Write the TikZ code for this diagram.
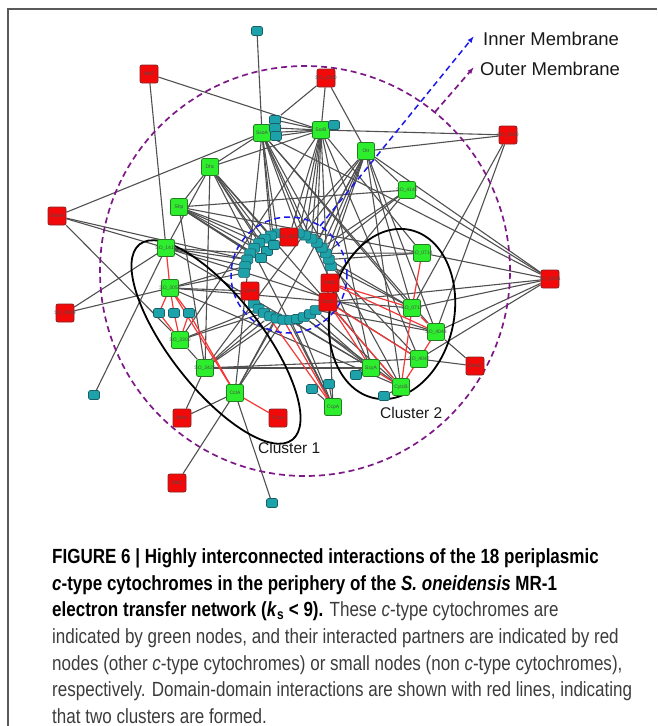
\documentclass[tikz,border=0pt]{standalone}
\usepackage{fontspec}
\setmainfont{Liberation Sans}
\newfontfamily\capfont[FakeStretch=0.83]{Liberation Sans}
\usetikzlibrary{arrows.meta}
\pgfdeclarelayer{bg}
\pgfsetlayers{bg,main}
\definecolor{cytgreen}{RGB}{45,238,45}
\definecolor{cytgreenb}{RGB}{35,125,35}
\definecolor{partred}{RGB}{242,10,10}
\definecolor{partredb}{RGB}{135,35,35}
\definecolor{smteal}{RGB}{30,162,170}
\definecolor{smtealb}{RGB}{25,95,105}
\definecolor{lnkgray}{RGB}{80,80,80}
\definecolor{ddred}{RGB}{245,55,55}
\definecolor{ommauve}{RGB}{125,25,135}
\definecolor{imblue}{RGB}{25,25,235}
\definecolor{captext}{RGB}{60,60,60}
\newcommand{\bk}[1]{\textcolor{black}{\bfseries #1}}

\begin{document}
\begin{tikzpicture}
[x=1pt, y=-1pt,
 cyt/.style={rectangle, rounded corners=2pt, fill=cytgreen, draw=cytgreenb, line width=0.8pt, inner sep=0pt, minimum size=17pt},
 part/.style={rectangle, rounded corners=2pt, fill=partred, draw=partredb, line width=0.8pt, inner sep=0pt, minimum size=18pt},
 smol/.style={rectangle, rounded corners=1.5pt, fill=smteal, draw=smtealb, line width=0.6pt, inner sep=0pt, minimum width=11pt, minimum height=9pt},
 every label/.style={font=\fontsize{5}{5}\selectfont, text=black!70, inner sep=0pt},
 lnk/.style={draw=lnkgray, line width=1.1pt},
 dd/.style={draw=ddred, line width=1.2pt},
 clus/.style={draw=black, line width=1.8pt},
 omb/.style={draw=ommauve, line width=1.7pt, dash pattern=on 6pt off 4pt},
 imb/.style={draw=imblue, line width=1.5pt, dash pattern=on 6pt off 4pt},
 capl/.style={anchor=base west, inner sep=0pt, text=captext, font=\capfont\fontsize{20.5}{24}\selectfont}]
\useasboundingbox (0,0) rectangle (657,726);
\draw[draw=black!65, line width=1.3pt] (8,726) -- (8,9) -- (657,9);

% green: periplasmic c-type cytochromes
\node[cyt, label=center:SsoA] (ssoa) at (262,133) {};
\node[cyt, label=center:SorB] (sorb) at (321,130) {};
\node[cyt, label=center:Otr] (otr) at (366,151) {};
\node[cyt, label=center:Dhc] (dhc) at (210,167) {};
\node[cyt, label=center:Shp] (shp) at (179,207) {};
\node[cyt, label=center:SO\_4142] (so4142) at (407,190) {};
\node[cyt, label=center:SO\_1413] (so1413) at (166,248) {};
\node[cyt, label=center:SO\_0714] (so0714) at (422,253) {};
\node[cyt, label=center:SO\_3056] (so3056) at (170,288) {};
\node[cyt, label=center:SO\_0717] (so0717) at (412,308) {};
\node[cyt, label=center:SO\_4048] (so4048) at (436,332) {};
\node[cyt, label=center:SO\_3300] (so3300) at (180,340) {};
\node[cyt, label=center:SO\_4047] (so4047) at (419,359) {};
\node[cyt, label=center:SO\_3420] (so3420) at (205,368) {};
\node[cyt, label=center:ScyA] (scya) at (371,368) {};
\node[cyt, label=center:CytcB] (cytcb) at (401,387) {};
\node[cyt, label=center:CctA] (ccta) at (235,393) {};
\node[cyt, label=center:CcpA] (ccpa) at (333,407) {};

% red: other c-type partners
\node[part, label=center:MtrF] (mtrf) at (149,74) {};
\node[part, label=center:SO\_4360] (so4360) at (326,78) {};
\node[part, label=center:SO\_2930] (so2930) at (508,135) {};
\node[part, label=center:DmsA] (dmsa) at (57,216) {};
\node[part, label=center:SO\_0939] (so0939) at (65,313) {};
\node[part, label=center:SO\_2931] (so2931) at (550,279) {};
\node[part, label=center:DmsE] (dmse) at (475,366) {};
\node[part, label=center:MtrA] (mtra) at (182,418) {};
\node[part, label=center:FccA] (fcca) at (278,418) {};
\node[part, label=center:MtrC] (mtrc) at (177,483) {};

% small: non c-type partners
\node[smol] (t1) at (257,31) {};
\node[smol] (t2) at (275,120) {};
\node[smol] (t3) at (275,128) {};
\node[smol] (t4) at (276,136) {};
\node[smol] (t5) at (334,125) {};
\node[smol] (t6) at (94,395) {};
\node[smol] (t7) at (272,503) {};
\node[smol] (k1) at (159,313) {};
\node[smol] (k2) at (174,313) {};
\node[smol] (k3) at (189,313) {};
\node[smol] (m1) at (312,389) {};
\node[smol] (m2) at (329,384) {};
\node[smol] (m3) at (356,375) {};
\node[smol] (m4) at (384,396) {};

% ring in the inner membrane
\foreach \a in {13,22,31,40,49,58,67,76,104,113,122,131,140,149,158,167,176,219,228,237,246,255,264,273,282,291,300,309}
  \node[smol] (c\a) at ({288+44*cos(\a)},{276-44*sin(\a)}) {};
\node[smol] (ci1) at (267,251) {};
\node[smol] (ci2) at (261,258) {};
\node[smol] (ci3) at (274,245) {};
\node[part, label=center:SO\_4572] (so4572) at (289,237) {};
\node[part, label=center:CymA] (cyma) at (250,291) {};
\node[part, label=center:PetC] (petc) at (330,283) {};
\node[part, label=center:CbcO] (cbco) at (328,302) {};

\coordinate (imtip) at (474,36);
\coordinate (imfoot) at (320,226);
\coordinate (omtip) at (474,67);
\coordinate (omfoot) at (435,112);
\node[anchor=base west, inner sep=0pt, font=\fontsize{18.5}{20}\selectfont, text=black!90] (imtxt) at (483,45) {Inner Membrane};
\node[anchor=base west, inner sep=0pt, font=\fontsize{18.5}{20}\selectfont, text=black!90] (omtxt) at (480,75) {Outer Membrane};
\node[anchor=base west, inner sep=0pt, font=\fontsize{15.5}{17}\selectfont, text=black!90] (cl1) at (258,453) {Cluster 1};
\node[anchor=base west, inner sep=0pt, font=\fontsize{15.5}{17}\selectfont, text=black!90] (cl2) at (380,418) {Cluster 2};

\begin{pgfonlayer}{bg}
\foreach \p/\q in {t1/ssoa, mtrf/sorb, mtrf/so1413, so4360/t2, so4360/sorb, so4360/otr,
  ssoa/sorb, t2/sorb, t3/sorb, t4/sorb, t5/sorb, ssoa/dhc, ssoa/dmsa, sorb/dhc, sorb/so2930,
  otr/so2930, dhc/shp, dhc/so1413, dmsa/so1413, dmsa/so3300, so0939/so1413, so0939/so3056,
  so1413/t6, shp/so3420, dhc/so3420, shp/so0714, shp/so4142, ssoa/so0717, ssoa/so4048,
  ssoa/cytcb, ssoa/ccta, ssoa/scya, sorb/so0714, sorb/scya, sorb/so4047, sorb/ccpa, sorb/so3300,
  otr/so4142, otr/so0717, otr/so4048, otr/cytcb, otr/so2931, otr/so3420, otr/ccta,
  dhc/ccpa, dhc/cytcb, so1413/so4048, so3056/so0717, so3300/so3420, so3420/mtra, so3420/scya,
  so3420/so4047, ccta/mtra, ccta/mtrc, ccta/t7, ccpa/m1, ccpa/m2, scya/m3, cytcb/m4,
  so0717/so2930, so0717/so2931, so4048/so2930, so4048/so2931, so4048/dmse, so4047/dmse,
  so4047/so2931, so0714/so2931, so4142/so2931, so2931/ssoa, sorb/so4572, otr/so4572,
  cyma/so3056, cbco/so2931, petc/so4142, shp/so4047, so1413/scya, so3056/cytcb}
  \draw[lnk] (\p) -- (\q);
% spokes into the ring
\foreach \p/\q in {ssoa/c104, ssoa/c113, ssoa/c76, ssoa/c67, ssoa/ci3, sorb/c58, sorb/c49, sorb/c76,
  sorb/c67, otr/c40, otr/c31, otr/c49, otr/c22, dhc/c122, dhc/c131, dhc/c113, dhc/ci1,
  shp/c140, shp/c149, shp/c131, shp/c122, shp/ci2, so1413/c158, so1413/c167, so1413/c149,
  so3056/c176, so3056/c167, so3300/c228, so3300/c237, so3420/c246, so3420/c237,
  ccta/c255, ccta/c264, ccpa/c282, ccpa/c273, scya/c300, scya/c291, cytcb/c309,
  so0717/c13, so0717/c22, so0714/c31, so0714/c22, so4142/c40, so4142/c31, dmsa/c158,
  so4047/c13, scya/c273, cytcb/c291, so3420/c255, so4048/c309}
  \draw[lnk] (\p) -- (\q);
% domain-domain interactions
\foreach \p/\q in {so1413/so3056, so3056/k1, so3056/k2, so3056/k3, k1/so3300, k2/so3300,
  k3/so3300, so3056/ccta, k3/ccta, ccta/fcca, cyma/ccpa, c264/ccpa, so0714/so0717,
  so0717/so4048, so4048/so4047, so4047/cytcb, so0717/cytcb, scya/cytcb, petc/so0717,
  petc/so4048, cbco/cytcb, cbco/scya, cbco/so4047}
  \draw[dd] (\p) -- (\q);
% membranes and clusters
\draw[omb] (305,271) circle [radius=205pt];
\draw[imb] (289,275) circle [radius=58pt];
\draw[imb, -{Latex[length=7pt, width=5pt]}] (imfoot) -- (imtip);
\draw[omb, -{Latex[length=7pt, width=5pt]}] (omfoot) -- (omtip);
\draw[clus, rotate around={-52:(216,342)}] (216,342) ellipse [x radius=124pt, y radius=46pt];
\draw[clus, rotate around={-12:(392,314)}] (392,314) ellipse [x radius=62pt, y radius=86pt];
\end{pgfonlayer}

% caption
\node[capl] (ln1) at (52,563) {\bk{FIGURE 6 | Highly interconnected interactions of the 18 periplasmic}};
\node[capl] (ln2) at (52,590) {\bk{\textit{c}-type cytochromes in the periphery of the \textit{S. oneidensis} MR-1}};
\node[capl] (ln3) at (52,616.5) {\bk{electron transfer network (\textit{k}\textsubscript{s} {<} 9).} These \textit{c}-type cytochromes are};
\node[capl] (ln4) at (52,643) {indicated by green nodes, and their interacted partners are indicated by red};
\node[capl] (ln5) at (52,670) {nodes (other \textit{c}-type cytochromes) or small nodes (non \textit{c}-type cytochromes),};
\node[capl] (ln6) at (52,696.5) {respectively. Domain-domain interactions are shown with red lines, indicating};
\node[capl] (ln7) at (52,723) {that two clusters are formed.};
\end{tikzpicture}
\end{document}
